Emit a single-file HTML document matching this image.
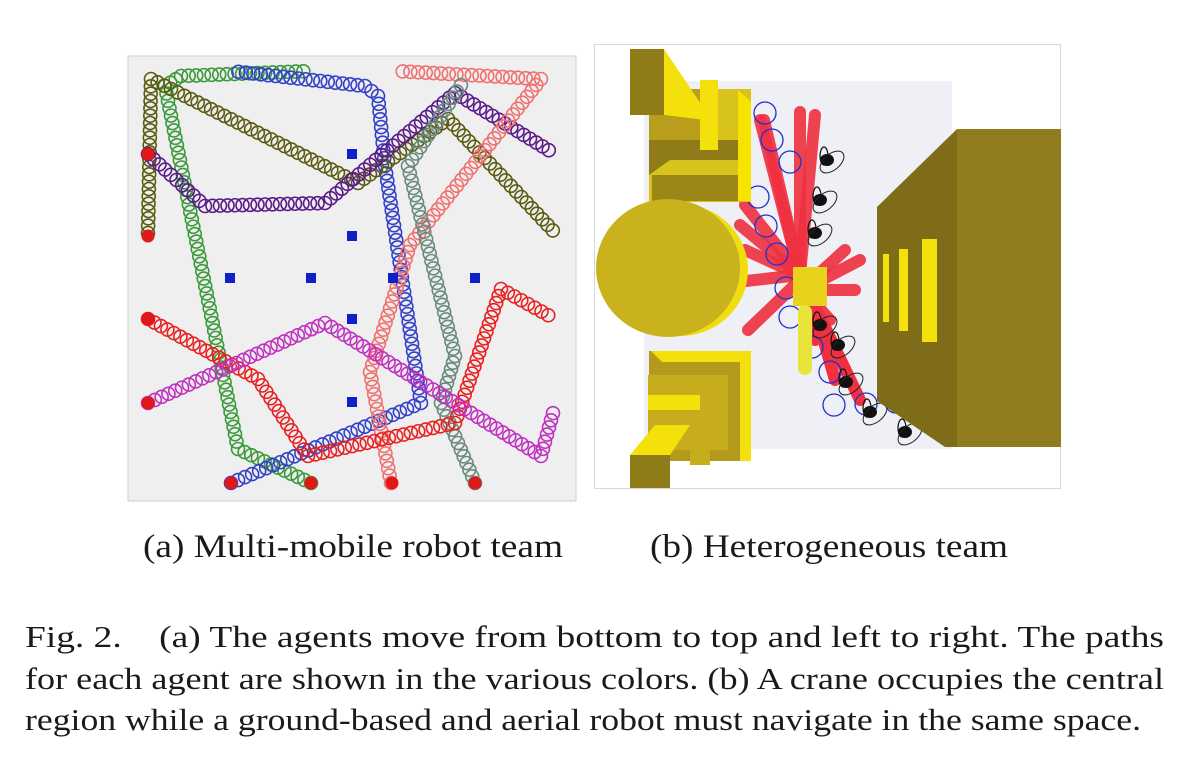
<!DOCTYPE html>
<html><head><meta charset="utf-8"><style>
html,body{margin:0;padding:0;background:#fff;}
svg{display:block;}
text{font-family:"Liberation Serif",serif;fill:#1a1a1a;}
</style></head><body>
<svg id="fig" width="1204" height="766" viewBox="0 0 1204 766">
<g id="panelA">
  <rect x="128" y="56" width="448" height="445" fill="#efefef" stroke="#cfcfcf"/>
  <g id="paths"></g>
  <g id="goals"></g>
  <g id="starts"></g>
</g>
<g id="panelB">
  <rect x="594.5" y="44.5" width="466" height="444" fill="#fff" stroke="#d8d8d8"/>
  <rect x="644" y="81" width="308" height="368" fill="#eef0f5"/>
  <g id="redtracks"></g>
  <g id="bluecircles"></g>
  <g>
    <rect x="649" y="89" width="102" height="113" fill="#d8c21c"/>
    <polygon points="649,89 700,89 700,140 649,140" fill="#b89e1a"/>
    <polygon points="649,140 751,140 751,160 670,160 649,175" fill="#8f7b18"/>
    <polygon points="630,49 664,49 664,115 630,115" fill="#8f7b18"/>
    <polygon points="664,49 705,110 705,120 664,115" fill="#f4e00a"/>
    <polygon points="700,80 718,80 718,150 700,150" fill="#f4e00a"/>
    <polygon points="738,90 751,102 751,201 738,201" fill="#f6e400"/>
    <polygon points="652,175 738,175 738,201 652,201" fill="#9c8618"/>
  </g>
  <g>
    <ellipse cx="680" cy="270" rx="68" ry="66" fill="#f0dd10"/>
    <ellipse cx="668" cy="268" rx="72" ry="69" fill="#c9b21e"/>
  </g>
  <g>
    <rect x="649" y="351" width="102" height="110" fill="#b39a1c"/>
    <polygon points="651,351 751,351 740,362 662,362" fill="#f4e00a"/>
    <polygon points="740,362 751,351 751,461 740,461" fill="#f4e00a"/>
    <rect x="648" y="375" width="80" height="75" fill="#c7ad1e"/>
    <polygon points="648,395 700,395 700,410 648,410" fill="#f4e00a"/>
    <rect x="630" y="455" width="40" height="33" fill="#8f7b18"/>
    <polygon points="630,455 655,425 690,425 670,455" fill="#f4e00a"/>
    <rect x="690" y="425" width="20" height="40" fill="#c7ad1e"/>
  </g>
  <rect x="793" y="267" width="34" height="39" fill="#e8d21c"/>
  <rect x="798" y="305" width="14" height="70" rx="7" fill="#e8e43a"/>
  <g id="blackscribbles"></g>
  <g>
    <polygon points="877,207 957,129 957,447 945,447 877,401" fill="#7e6c18"/>
    <rect x="957" y="129" width="104" height="318" fill="#8f7d20"/>
    <rect x="883" y="254" width="6" height="68" fill="#f4e00a"/>
    <rect x="899" y="249" width="9" height="82" fill="#f4e00a"/>
    <rect x="922" y="239" width="15" height="103" fill="#f4e00a"/>
  </g>
</g>
<text x="143" y="557" font-size="33" textLength="420" lengthAdjust="spacingAndGlyphs">(a) Multi-mobile robot team</text>
<text x="650" y="557" font-size="33" textLength="358" lengthAdjust="spacingAndGlyphs">(b) Heterogeneous team</text>
<text x="25" y="647" font-size="31" textLength="1139" lengthAdjust="spacingAndGlyphs" xml:space="preserve">Fig. 2.    (a) The agents move from bottom to top and left to right. The paths</text>
<text x="25" y="689" font-size="31" textLength="1139" lengthAdjust="spacingAndGlyphs">for each agent are shown in the various colors. (b) A crane occupies the central</text>
<text x="25" y="730" font-size="31" textLength="1116" lengthAdjust="spacingAndGlyphs">region while a ground-based and aerial robot must navigate in the same space.</text>
</svg>
<script>
const NS="http://www.w3.org/2000/svg";
const pathNames=["green","blue","olive","purple","light-red","gray","red","magenta"];
const pathColors=["#3a9a3a","#3340c8","#5a5a10","#5a1a8a","#f07070","#6a8a80","#e82020","#c030c0"];
const pathX=[[311,238,165,181,311],[231,421,385,378,365,231],[148,151,358,448,558],[148,205,325,455,555],[391,370,410,541,395],[475,441,455,408,465],[148,258,308,455,501,555],[148,325,541,555]];
const pathY=[[483,449,86,76,71],[483,403,166,96,86,71],[233,79,183,119,236],[154,206,203,93,154],[483,372,245,79,71],[483,403,356,166,79],[319,379,456,423,289,319],[403,323,456,406]];
const startX=[148,148,148,148,231,311,392,475];
const startY=[154,236,319,403,483,483,483,483];
const goalX=[352,352,230,311,393,475,352,352];
const goalY=[154,236,278,278,278,278,319,402];
const gP=document.getElementById('paths');
pathX.forEach((xs,i)=>{
  const g=document.createElementNS(NS,'g');
  
  
  for(let k=0;k<xs.length-1;k++){
    const x0=xs[k],y0=pathY[i][k],x1=xs[k+1],y1=pathY[i][k+1];
    const L=Math.hypot(x1-x0,y1-y0),n=Math.max(1,Math.round(L/7.5));
    for(let j=0;j<n;j++){
      const t=j/n,c=document.createElementNS(NS,'circle');
      c.setAttribute('cx',x0+(x1-x0)*t);c.setAttribute('cy',y0+(y1-y0)*t);
      c.setAttribute('r',6.5);c.setAttribute('fill','none');
      c.setAttribute('stroke',pathColors[i]);c.setAttribute('stroke-width',1.6);
      g.appendChild(c);
    }
  }
  gP.appendChild(g);
});
const gS=document.getElementById('starts');
startX.forEach((x,i)=>{
  const c=document.createElementNS(NS,'circle');
  
  
  c.setAttribute('cx',x);c.setAttribute('cy',startY[i]);c.setAttribute('r',6.5);c.setAttribute('fill','#e01818');
  gS.appendChild(c);
});
const gG=document.getElementById('goals');
goalX.forEach((x,i)=>{
  const r=document.createElementNS(NS,'rect');
  
  
  r.setAttribute('x',x-5);r.setAttribute('y',goalY[i]-5);r.setAttribute('width',10);r.setAttribute('height',10);r.setAttribute('fill','#1020c8');
  gG.appendChild(r);
});
const redEndX=[760,764,800,815,745,740,745,737,845,860,855,830,748];
const redEndY=[120,120,112,115,205,225,250,282,250,260,290,320,330];
const redStartX=[800,800,800,800,800,800,800,800,812,812,812,812,800];
const redStartY=[275,275,275,275,275,275,275,275,280,285,290,300,280];
const gR=document.getElementById('redtracks');
redEndX.forEach((x,i)=>{
  const l=document.createElementNS(NS,'line');
  
  
  l.setAttribute('x1',redStartX[i]);l.setAttribute('y1',redStartY[i]);l.setAttribute('x2',x);l.setAttribute('y2',redEndY[i]);
  l.setAttribute('stroke','#f03040');l.setAttribute('stroke-width',12);l.setAttribute('stroke-linecap','round');l.setAttribute('opacity','0.9');
  gR.appendChild(l);
});
const lowX=[815,835,860];const lowY=[340,380,400];
lowX.forEach((x,i)=>{
  const l=document.createElementNS(NS,'line');
  
  
  l.setAttribute('x1',812);l.setAttribute('y1',300);l.setAttribute('x2',x);l.setAttribute('y2',lowY[i]);
  l.setAttribute('stroke','#f03040');l.setAttribute('stroke-width',12);l.setAttribute('stroke-linecap','round');
  gR.appendChild(l);
});
const bcX=[765,772,790,758,766,777,786,790,812,830,834,866,896];
const bcY=[113,140,162,197,226,254,288,317,347,372,405,404,402];
const gB=document.getElementById('bluecircles');
bcX.forEach((x,i)=>{
  const c=document.createElementNS(NS,'circle');
  
  
  c.setAttribute('cx',x);c.setAttribute('cy',bcY[i]);c.setAttribute('r',11);c.setAttribute('fill','none');
  c.setAttribute('stroke','#2030d0');c.setAttribute('stroke-width',1.3);
  gB.appendChild(c);
});
const bkX=[827,820,815,820,838,846,870,905];
const bkY=[160,200,233,325,345,382,412,432];
const gK=document.getElementById('blackscribbles');
bkX.forEach((x,i)=>{
  const g=document.createElementNS(NS,'g');
  
  
  const y=bkY[i];
  g.innerHTML=`<ellipse cx="${x}" cy="${y}" rx="7" ry="6" fill="#111"/><ellipse cx="${x+5}" cy="${y+2}" rx="14" ry="8" fill="none" stroke="#222" stroke-width="1" transform="rotate(-40 ${x+5} ${y+2})"/><ellipse cx="${x-3}" cy="${y-4}" rx="4" ry="9" fill="none" stroke="#111" stroke-width="1.2"/>`;
  gK.appendChild(g);
});
</script>
</body></html>
